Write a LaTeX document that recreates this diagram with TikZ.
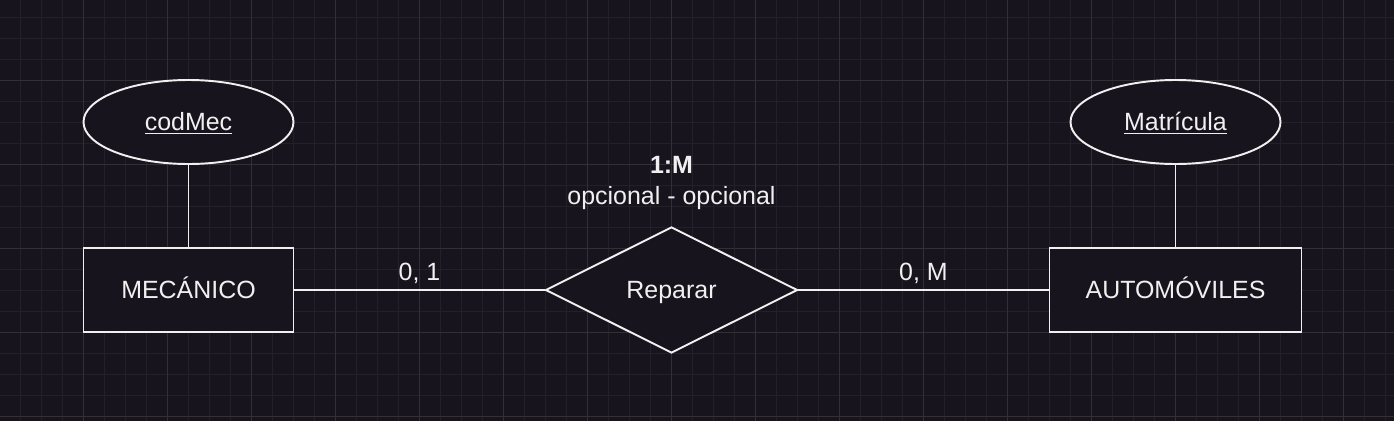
\documentclass[tikz,border=0pt]{standalone}
\usepackage{fontspec}
\setmainfont{Liberation Sans}
\usetikzlibrary{shapes.geometric,positioning,calc}
\definecolor{canvas}{RGB}{24,20,29}
\definecolor{gridminor}{RGB}{35,32,41}
\definecolor{gridmajor}{RGB}{50,47,55}
\definecolor{ink}{RGB}{240,240,240}
\tikzset{
	entity/.style={draw=ink,fill=canvas,line width=1.1pt,rectangle,inner sep=0pt,
		minimum height=1.68cm,text height=10.2pt,text depth=0pt,text=ink},
	attribute/.style={draw=ink,fill=canvas,line width=1.1pt,ellipse,inner sep=0pt,
		minimum width=4.2cm,minimum height=1.68cm,text height=10.2pt,text depth=0pt,text=ink},
	relation/.style={draw=ink,fill=canvas,line width=1.1pt,diamond,inner sep=0pt,
		minimum width=5.04cm,minimum height=2.52cm,text height=10.2pt,text depth=0pt,text=ink},
	link/.style={draw=ink,line width=1.1pt},
	cardlabel/.style={text=ink,inner sep=0pt},
}

\begin{document}
\begin{tikzpicture}[font=\fontsize{14.2}{17.5}\selectfont]
		\useasboundingbox (0,0) rectangle (27.88,8.42);
		\fill[canvas] (0,0) rectangle (27.88,8.42);
		% background grid: minor every 0.42, major every 1.68
		\draw[gridminor,line width=0.5pt,step=0.42,shift={(0.41,0.10)}]
		(-0.41,-0.10) grid (27.47,8.32);
		\draw[gridmajor,line width=0.5pt,step=1.68,shift={(1.67,0.10)}]
		(-1.67,-0.10) grid (26.21,8.32);
		
		\node[entity,minimum width=4.2cm] (mecanico) at (3.77,2.62) {MECÁNICO};
		\node[attribute] (codmec) at (3.77,5.98) {\underline{codMec}};
		
		\node[relation] (reparar) at (13.43,2.62) {Reparar};
		\node[cardlabel,align=center] (card) at (13.43,4.76)
		{\textbf{1:M}\\opcional - opcional};
		
		\node[entity,minimum width=5.04cm] (automoviles) at (23.51,2.62) {AUTOMÓVILES};
		\node[attribute] (matricula) at (23.51,5.98) {\underline{Matrícula}};
		
		\draw[link] (codmec.south) -- (mecanico.north);
		\draw[link] (matricula.south) -- (automoviles.north);
		\draw[link] (mecanico.east) -- node[cardlabel,midway,yshift=0.33cm] {0, 1} (reparar.west);
		\draw[link] (reparar.east) -- node[cardlabel,midway,yshift=0.33cm] {0, M} (automoviles.west);
		
	\end{tikzpicture}
\end{document}
